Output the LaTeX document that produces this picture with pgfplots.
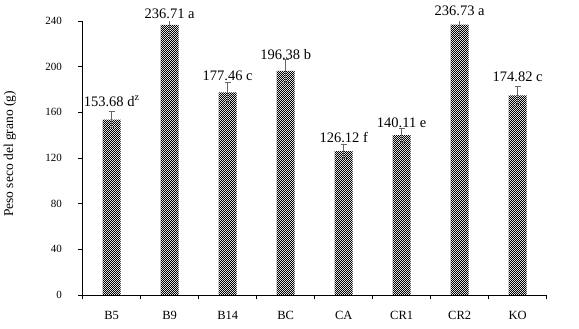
\documentclass[border=0pt]{standalone}
\usepackage{fontspec}
\setmainfont{Liberation Serif}
\usepackage{pgfplots}
\pgfplotsset{compat=1.18}
\usetikzlibrary{patterns}
\pgfdeclarepatternformonly{finecheck}{\pgfpointorigin}{\pgfqpoint{2.4pt}{2.4pt}}{\pgfqpoint{2.4pt}{2.4pt}}{%
  \pgfpathrectangle{\pgfpointorigin}{\pgfqpoint{1.2pt}{1.2pt}}%
  \pgfpathrectangle{\pgfqpoint{1.2pt}{1.2pt}}{\pgfqpoint{1.2pt}{1.2pt}}%
  \pgfusepath{fill}}
\begin{document}
\begin{tikzpicture}
\begin{axis}[
  name=ax, at={(0,0)}, anchor=south west,
  scale only axis, width=464pt, height=274pt,
  xmin=0.5, xmax=8.5, ymin=0, ymax=240,
  clip=false,
  axis x line=bottom, axis y line=left,
  axis line style={-, black, line width=0.8pt},
  xtick={0.5,1.5,...,8.5},
  xticklabels={B5,B9,B14,BC,CA,CR1,CR2,KO},
  x tick label as interval,
  ytick={0,40,...,240},
  tick align=outside, major tick length=4.5pt,
  tick style={black, line width=0.8pt},
  /pgf/number format/assume math mode=true,
  yticklabel style={font=\fontsize{11}{13}\selectfont, anchor=east, inner sep=0pt, xshift=-16pt},
  xticklabel style={font=\fontsize{12.5}{14}\selectfont, anchor=base, inner sep=0pt, yshift=-20pt},
  ylabel={Peso seco del grano (g)},
  ylabel style={at={(axis description cs:-0.157,0.515)}, anchor=center, rotate=0, font=\fontsize{13.5}{15}\selectfont},
]
% bars
\addplot[ybar, bar width=18pt, draw=none, pattern=finecheck, pattern color=black]
table[x=x, y=y] {
x y
1 153.68
2 236.71
3 177.46
4 196.38
5 126.12
6 140.11
7 236.73
8 174.82
};
% error bars with caps
\addplot[draw=none, mark=none,
  error bars/.cd, y dir=both, y explicit,
  error bar style={draw=black!60, solid, line width=0.6pt},
  error mark options={rotate=90, mark size=3pt, draw=black!60, line width=0.6pt}]
table[x=x, y=y, y error plus=e, y error minus=e] {
x y e
1 153.68 7.0
3 177.46 9.0
4 196.38 10.2
5 126.12 6.2
6 140.11 6.2
8 174.82 8.2
};
% error bars cut at the top of the axis
\addplot[draw=none, mark=none,
  error bars/.cd, y dir=both, y explicit, error mark=none,
  error bar style={draw=black!60, solid, line width=0.6pt}]
table[x=x, y=y, y error plus=ep, y error minus=em] {
x y ep em
2 236.71 3.29 11.7
7 236.73 3.27 11.6
};
% value labels
\addplot[draw=none, mark=none, nodes near coords, point meta=explicit symbolic,
  nodes near coords style={anchor=base, inner sep=0pt, text=black, font=\fontsize{14.5}{16}\selectfont}]
table[x=x, y=ly, meta=lab, col sep=comma, row sep=\\] {
x,ly,lab\\
1,165.5,153.68 d\textsuperscript{z}\\
2,242.6,236.71 a\\
3,188.3,177.46 c\\
4,206.7,196.38 b\\
5,133.4,126.12 f\\
6,146.5,140.11 e\\
7,244.4,236.73 a\\
8,187.4,174.82 c\\
};
\end{axis}
\pgfresetboundingbox
\useasboundingbox (-82.7pt,-34pt) rectangle (496.3pt,295pt);
\end{tikzpicture}
\end{document}
